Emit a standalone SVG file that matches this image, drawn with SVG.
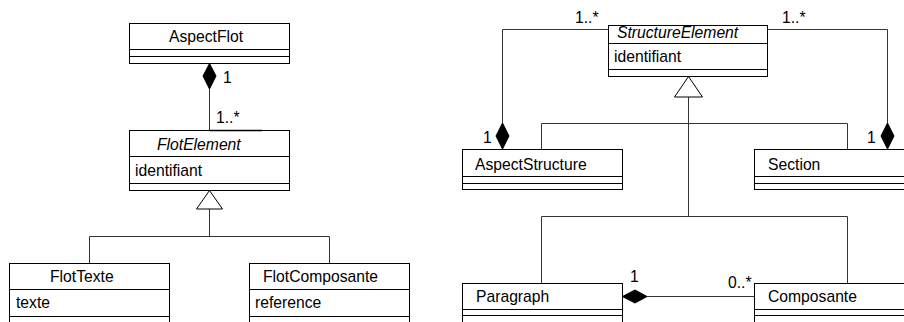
<svg xmlns="http://www.w3.org/2000/svg" width="904" height="322" viewBox="0 0 904 322">
<style>
text{font-family:"Liberation Sans",Arial,sans-serif;font-size:15.7px;fill:#000}
.it{font-style:italic}
.box{fill:#fff;stroke:#000;stroke-width:1}
.sep{stroke:#000;stroke-width:1}
.con{fill:none;stroke:#333;stroke-width:1}
.dia{fill:#000;stroke:#000;stroke-width:1}
.tri{fill:#fff;stroke:#000;stroke-width:1}
</style>
<rect width="904" height="322" fill="#fff"/>
<g id="connectors">
  <line class="con" x1="209.5" y1="89" x2="209.5" y2="130"/>
  <polygon class="dia" points="209.5,63.5 216,76 209.5,89 203,76"/>
  <polyline class="con" points="209.5,209 209.5,236.5"/>
  <polyline class="con" points="89.5,263.5 89.5,236.5 329.5,236.5 329.5,263.5"/>
  <polyline class="con" points="608,29.5 502.5,29.5 502.5,123"/>
  <polygon class="dia" points="502.5,123 509,136 502.5,149 496,136"/>
  <polyline class="con" points="767.5,29.5 887.5,29.5 887.5,123"/>
  <polygon class="dia" points="887.5,123 894,136 887.5,149 881,136"/>
  <line class="con" x1="688.5" y1="97" x2="688.5" y2="216.5"/>
  <polyline class="con" points="541.5,149.5 541.5,123.5 847.5,123.5 847.5,149.5"/>
  <polyline class="con" points="541.5,283.5 541.5,216.5 847.5,216.5 847.5,283.5"/>
  <line class="con" x1="647" y1="296.5" x2="754" y2="296.5"/>
  <polygon class="dia" points="622.5,296.5 635,290 647,296.5 635,303"/>
  <text x="223" y="83">1</text>
  <text x="216" y="123">1..*</text>
  <text x="575" y="23">1..*</text>
  <text x="782" y="23">1..*</text>
  <text x="483" y="143">1</text>
  <text x="867" y="143">1</text>
  <text x="630" y="282">1</text>
  <text x="728" y="288">0..*</text>
</g>
<g id="AspectFlot">
  <rect class="box" x="129.5" y="23.5" width="160" height="40"/>
  <line class="sep" x1="129.5" y1="49.5" x2="289.5" y2="49.5"/>
  <line class="sep" x1="129.5" y1="56.5" x2="289.5" y2="56.5"/>
  <text x="169" y="42">AspectFlot</text>
</g>
<g id="FlotElement">
  <rect class="box" x="129.5" y="130.5" width="160" height="60"/>
  <line x1="209.5" y1="130.5" x2="262" y2="130.5" stroke="#000" stroke-width="1.6"/>
  <line class="sep" x1="129.5" y1="156.5" x2="289.5" y2="156.5"/>
  <line class="sep" x1="129.5" y1="183.5" x2="289.5" y2="183.5"/>
  <text class="it" x="157" y="150">FlotElement</text>
  <text x="135" y="176">identifiant</text>
  <polygon class="tri" points="209.5,190.5 222.5,209 196.5,209"/>
</g>
<g id="FlotTexte">
  <rect class="box" x="9.5" y="263.5" width="160" height="70"/>
  <line class="sep" x1="9.5" y1="289.5" x2="169.5" y2="289.5"/>
  <line class="sep" x1="9.5" y1="316.5" x2="169.5" y2="316.5"/>
  <text x="50" y="282">FlotTexte</text>
  <text x="16" y="308">texte</text>
</g>
<g id="FlotComposante">
  <rect class="box" x="249.5" y="263.5" width="160" height="70"/>
  <line class="sep" x1="249.5" y1="289.5" x2="409.5" y2="289.5"/>
  <line class="sep" x1="249.5" y1="316.5" x2="409.5" y2="316.5"/>
  <text x="263" y="282">FlotComposante</text>
  <text x="255" y="308">reference</text>
</g>
<g id="StructureElement">
  <rect class="box" x="608.5" y="25.5" width="159" height="51"/>
  <line class="sep" x1="608.5" y1="43.5" x2="767.5" y2="43.5"/>
  <line class="sep" x1="608.5" y1="69.5" x2="767.5" y2="69.5"/>
  <text class="it" x="617" y="38">StructureElement</text>
  <text x="614" y="62">identifiant</text>
  <polygon class="tri" points="688.5,76.5 702.5,97 674.5,97"/>
</g>
<g id="AspectStructure">
  <rect class="box" x="462.5" y="149.5" width="160" height="40"/>
  <line class="sep" x1="462.5" y1="176.5" x2="622.5" y2="176.5"/>
  <line class="sep" x1="462.5" y1="183.5" x2="622.5" y2="183.5"/>
  <text x="475" y="170">AspectStructure</text>
</g>
<g id="Section">
  <rect class="box" x="754.5" y="149.5" width="160" height="40"/>
  <line class="sep" x1="754.5" y1="176.5" x2="914.5" y2="176.5"/>
  <line class="sep" x1="754.5" y1="183.5" x2="914.5" y2="183.5"/>
  <text x="768" y="170">Section</text>
</g>
<g id="Paragraph">
  <rect class="box" x="462.5" y="283.5" width="160" height="50"/>
  <line class="sep" x1="462.5" y1="309.5" x2="622.5" y2="309.5"/>
  <line class="sep" x1="462.5" y1="315.5" x2="622.5" y2="315.5"/>
  <text x="476" y="302">Paragraph</text>
</g>
<g id="Composante">
  <rect class="box" x="754.5" y="283.5" width="160" height="50"/>
  <line class="sep" x1="754.5" y1="309.5" x2="914.5" y2="309.5"/>
  <line class="sep" x1="754.5" y1="315.5" x2="914.5" y2="315.5"/>
  <text x="768" y="302">Composante</text>
</g>
</svg>
